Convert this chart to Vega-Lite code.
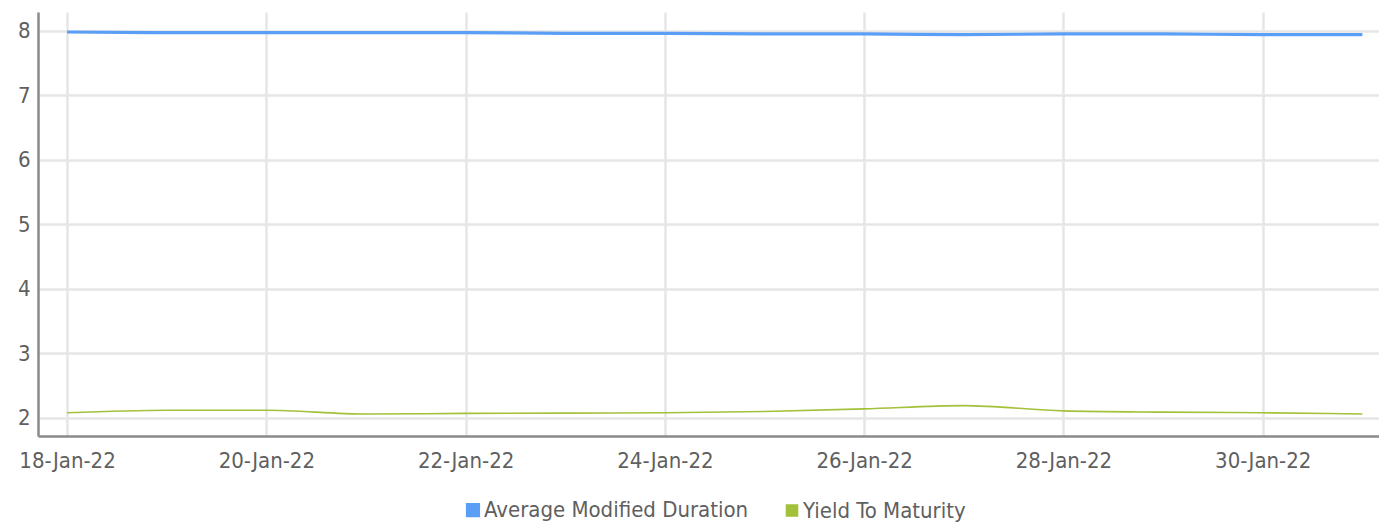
{
  "$schema": "https://vega.github.io/schema/vega-lite/v6.json",
  "autosize": {"type": "none"},
  "padding": {"left": 38, "top": 12, "right": 0, "bottom": 86},
  "width": 1341,
  "height": 424,
  "background": "#ffffff",
  "config": {
    "view": {"stroke": null},
    "font": "DejaVu Sans Condensed",
    "axis": {
      "labelFont": "DejaVu Sans Condensed",
      "labelFontSize": 22,
      "labelColor": "#5f5f5f",
      "gridColor": "#e6e6e6",
      "gridWidth": 2.5,
      "domainColor": "#8a8a8a",
      "domainWidth": 2.5,
      "ticks": false,
      "title": null
    },
    "legend": {
      "labelFont": "DejaVu Sans Condensed",
      "labelFontSize": 22,
      "labelColor": "#5f5f5f",
      "labelLimit": 500,
      "padding": 0
    }
  },
  "data": {
    "values": [
      {"date": "2022-01-18T00:00:00", "series": "Average Modified Duration", "value": 7.98},
      {"date": "2022-01-19T00:00:00", "series": "Average Modified Duration", "value": 7.97},
      {"date": "2022-01-20T00:00:00", "series": "Average Modified Duration", "value": 7.97},
      {"date": "2022-01-21T00:00:00", "series": "Average Modified Duration", "value": 7.97},
      {"date": "2022-01-22T00:00:00", "series": "Average Modified Duration", "value": 7.97},
      {"date": "2022-01-23T00:00:00", "series": "Average Modified Duration", "value": 7.96},
      {"date": "2022-01-24T00:00:00", "series": "Average Modified Duration", "value": 7.96},
      {"date": "2022-01-25T00:00:00", "series": "Average Modified Duration", "value": 7.95},
      {"date": "2022-01-26T00:00:00", "series": "Average Modified Duration", "value": 7.95},
      {"date": "2022-01-27T00:00:00", "series": "Average Modified Duration", "value": 7.94},
      {"date": "2022-01-28T00:00:00", "series": "Average Modified Duration", "value": 7.95},
      {"date": "2022-01-29T00:00:00", "series": "Average Modified Duration", "value": 7.95},
      {"date": "2022-01-30T00:00:00", "series": "Average Modified Duration", "value": 7.94},
      {"date": "2022-01-31T00:00:00", "series": "Average Modified Duration", "value": 7.94},
      {"date": "2022-01-18T00:00:00", "series": "Yield To Maturity", "value": 2.08},
      {"date": "2022-01-19T00:00:00", "series": "Yield To Maturity", "value": 2.12},
      {"date": "2022-01-20T00:00:00", "series": "Yield To Maturity", "value": 2.12},
      {"date": "2022-01-21T00:00:00", "series": "Yield To Maturity", "value": 2.06},
      {"date": "2022-01-22T00:00:00", "series": "Yield To Maturity", "value": 2.07},
      {"date": "2022-01-23T00:00:00", "series": "Yield To Maturity", "value": 2.075},
      {"date": "2022-01-24T00:00:00", "series": "Yield To Maturity", "value": 2.08},
      {"date": "2022-01-25T00:00:00", "series": "Yield To Maturity", "value": 2.10},
      {"date": "2022-01-26T00:00:00", "series": "Yield To Maturity", "value": 2.14},
      {"date": "2022-01-27T00:00:00", "series": "Yield To Maturity", "value": 2.19},
      {"date": "2022-01-28T00:00:00", "series": "Yield To Maturity", "value": 2.11},
      {"date": "2022-01-29T00:00:00", "series": "Yield To Maturity", "value": 2.09},
      {"date": "2022-01-30T00:00:00", "series": "Yield To Maturity", "value": 2.08},
      {"date": "2022-01-31T00:00:00", "series": "Yield To Maturity", "value": 2.06}
    ]
  },
  "mark": {"type": "line", "interpolate": "monotone"},
  "encoding": {
    "x": {
      "field": "date",
      "type": "temporal",
      "scale": {
        "domain": [
          {"year": 2022, "month": 1, "date": 17, "hours": 17},
          {"year": 2022, "month": 1, "date": 31, "hours": 4}
        ]
      },
      "axis": {
        "format": "%d-%b-%y",
        "labelPadding": 14,
        "labelFlush": false,
        "labelOverlap": false,
        "values": [
          {"year": 2022, "month": 1, "date": 18},
          {"year": 2022, "month": 1, "date": 20},
          {"year": 2022, "month": 1, "date": 22},
          {"year": 2022, "month": 1, "date": 24},
          {"year": 2022, "month": 1, "date": 26},
          {"year": 2022, "month": 1, "date": 28},
          {"year": 2022, "month": 1, "date": 30}
        ]
      }
    },
    "y": {
      "field": "value",
      "type": "quantitative",
      "scale": {"domain": [1.72, 8.29], "nice": false, "zero": false},
      "axis": {"values": [2, 3, 4, 5, 6, 7, 8], "labelPadding": 8}
    },
    "color": {
      "field": "series",
      "type": "nominal",
      "scale": {
        "domain": ["Average Modified Duration", "Yield To Maturity"],
        "range": ["#5a9ef5", "#a3c13a"]
      },
      "legend": {
        "title": null,
        "orient": "none",
        "direction": "horizontal",
        "legendX": 424,
        "legendY": 487,
        "symbolType": "square",
        "symbolSize": 121,
        "symbolStrokeWidth": 0,
        "symbolOpacity": 1,
        "labelOffset": 0,
        "columnPadding": 32,
        "encode": {
          "symbols": {
            "update": {
              "fill": {"scale": "color", "field": "value"},
              "strokeWidth": {"value": 0}
            }
          }
        }
      }
    },
    "strokeWidth": {
      "field": "series",
      "type": "nominal",
      "scale": {
        "domain": ["Average Modified Duration", "Yield To Maturity"],
        "range": [3.2, 1.6]
      },
      "legend": null
    }
  }
}
